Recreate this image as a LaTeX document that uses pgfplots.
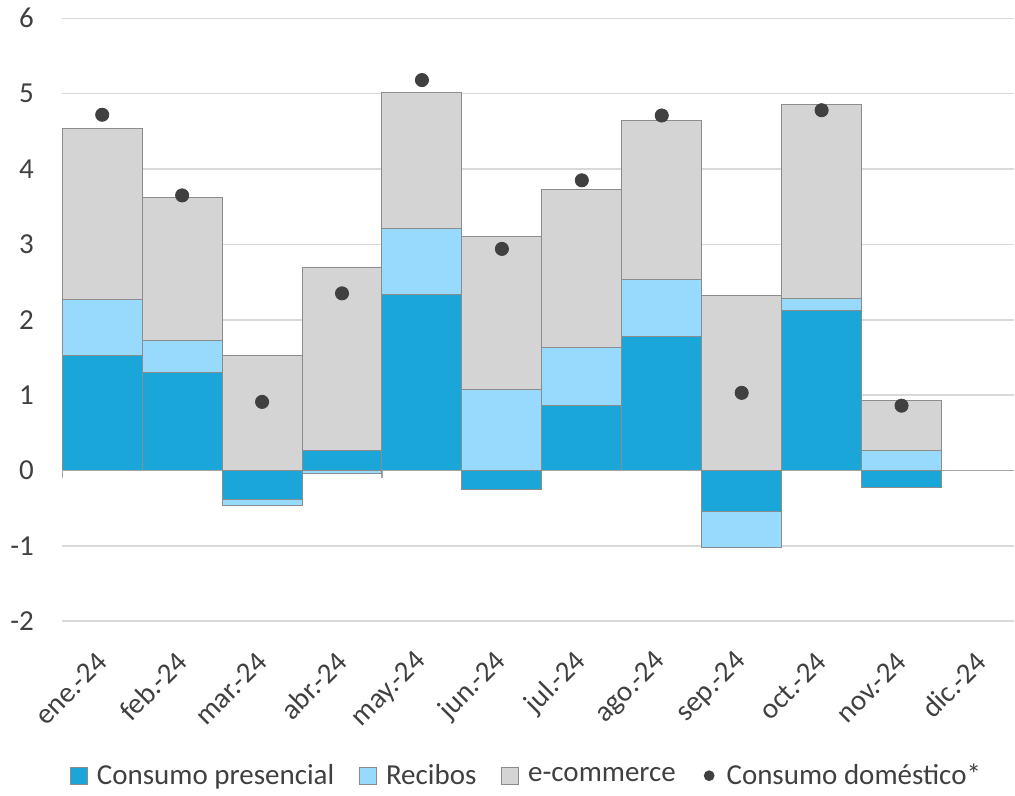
\documentclass[border=0pt]{standalone}
\usepackage{fontspec}
\setmainfont{Carlito}
\usepackage{pgfplots}
\usepackage{pgfplotstable}
\pgfplotsset{compat=1.18}
\usetikzlibrary{calc}

\definecolor{pres}{HTML}{1BA6DA}
\definecolor{rec}{HTML}{97DAFD}
\definecolor{ecom}{HTML}{D4D4D4}
\definecolor{bord}{HTML}{8C8C8C}
\definecolor{dom}{HTML}{404040}
\definecolor{txt}{HTML}{404040}
\definecolor{gridc}{HTML}{D9D9D9}
\definecolor{zeroc}{HTML}{A6A6A6}

% positive parts stack up from 0, negative parts stack down from 0 (Excel style)
\pgfplotstableread{
x   pp    rp    ec    pn     rn     dom
0   1.53  0.74  2.27  0      0      4.72
1   1.30  0.42  1.90  0      0      3.65
2   0     0     1.53  -0.39  -0.08  0.91
3   0.27  0     2.43  0      -0.04  2.35
4   2.34  0.87  1.81  0      0      5.18
5   0     1.08  2.02  -0.25  0      2.94
6   0.86  0.77  2.10  0      0      3.85
7   1.78  0.76  2.10  0      0      4.71
8   0     0     2.32  -0.55  -0.47  1.03
9   2.12  0.16  2.57  0      0      4.78
10  0     0.27  0.66  -0.22  0      0.86
}\data

\pgfplotsset{
  base/.style={
    width=476.35pt, height=301.7pt, scale only axis,
    xmin=-0.5, xmax=11.41, ymin=-2, ymax=6, clip=false,
  },
  bars/.style={ybar stacked, bar width=1,
    every axis plot/.append style={draw=bord, line width=0.5pt}},
  sqleg/.style={legend image code/.code={\draw[##1] (0pt,-4.2pt) rectangle (8.4pt,4.2pt);}},
}

\begin{document}
\begin{tikzpicture}
% positive parts, grid, labels, legend
\begin{axis}[
  base, bars,
  xtick={0,...,11},
  xticklabels={ene.-24,feb.-24,mar.-24,abr.-24,may.-24,jun.-24,jul.-24,ago.-24,sep.-24,oct.-24,nov.-24,dic.-24},
  ytick={-2,...,6},
  ymajorgrids,
  major grid style={gridc, line width=0.75pt},
  axis line style={draw=none},
  major tick length=0pt,
  /pgf/number format/assume math mode=true,
  tick label style={font=\fontsize{14.5}{17}\selectfont, text=txt},
  yticklabel style={inner sep=0pt, anchor=east, xshift=-14pt},
  xticklabel style={inner sep=0pt, yshift=-18pt, rotate=45, anchor=east},
  legend columns=4,
  legend style={at={(0.4883,-0.2562)}, anchor=center, draw=none, fill=none,
    font=\fontsize{14.5}{17}\selectfont, text=txt,
    nodes={inner xsep=1.5pt},
    /tikz/every odd column/.append style={column sep=3pt},
    /tikz/every even column/.append style={column sep=11pt}},
]
\draw[zeroc, line width=0.75pt] (axis cs:-0.5,0) -- (axis cs:11.41,0);
\draw[zeroc, line width=0.75pt] (axis cs:-0.5,0) -- ++(0pt,-4pt);
\draw[zeroc, line width=0.75pt] (axis cs:3.5,0) -- ++(0pt,-4pt);
\draw[zeroc, line width=0.75pt] (axis cs:7.5,0) -- ++(0pt,-4pt);

\addplot[fill=pres, sqleg] table[x=x, y=pp] {\data};
\addlegendentry{Consumo presencial}
\addplot[fill=rec, sqleg] table[x=x, y=rp] {\data};
\addlegendentry{Recibos}
\addplot[fill=ecom, sqleg] table[x=x, y=ec] {\data};
\addlegendentry{e-commerce}
\addlegendimage{draw=none, fill=dom, legend image code/.code={
  \path[draw=none, fill=none] (0pt,-4.2pt) rectangle (8.4pt,4.2pt);
  \fill[dom, draw=none] (4.2pt,0pt) circle (2.7pt);}}
\addlegendentry{Consumo doméstico*}

\coordinate (bl) at (rel axis cs:0,0);
\coordinate (tr) at (rel axis cs:1,1);
\end{axis}

% negative parts
\begin{axis}[base, bars, hide axis]
\addplot[fill=pres] table[x=x, y=pn] {\data};
\addplot[fill=rec] table[x=x, y=rn] {\data};
\end{axis}

% Consumo domestico
\begin{axis}[base, hide axis]
\addplot[only marks, mark=*, mark size=3.3pt, mark options={fill=dom, draw=dom}]
  table[x=x, y=dom] {\data};
\end{axis}

\path ($(bl)+(-31.15pt,-85.65pt)$) rectangle ($(tr)+(0pt,9.15pt)$);
\end{tikzpicture}
\end{document}
